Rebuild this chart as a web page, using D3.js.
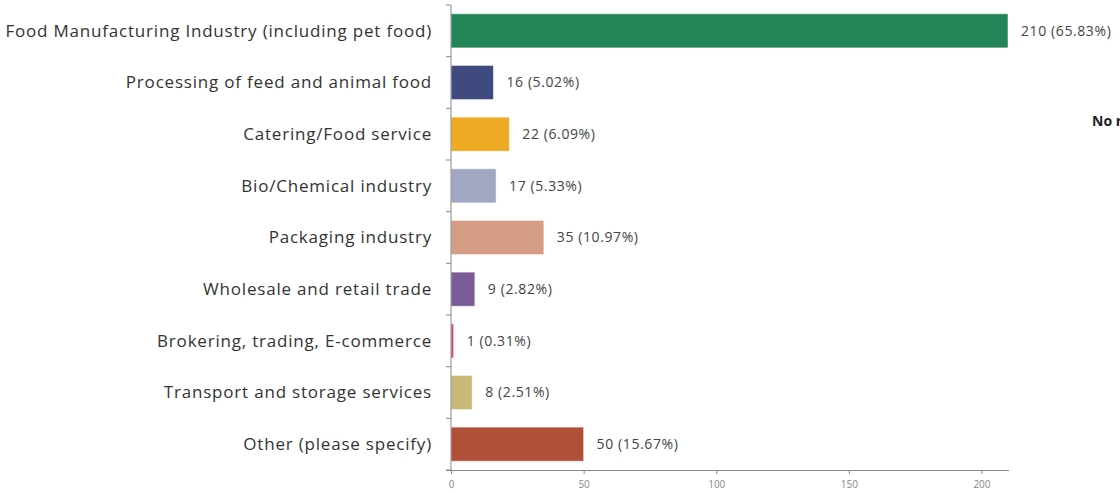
<!DOCTYPE html>
<html>
<head>
<meta charset="utf-8">
<script src="https://cdn.jsdelivr.net/npm/d3@7"></script>
<style>
  body { margin: 0; background: #fff; font-family: "Open Sans", sans-serif; }
  .axis path, .axis line { stroke: #888; }
  .axis text { fill: #888; font-size: 10px; font-family: "Open Sans", sans-serif; }
</style>
</head>
<body>
<script>
const w = 1120;
const h = 493;

// data
const categories = [
    "Food Manufacturing Industry (including pet food)",
    "Processing of feed and animal food",
    "Catering/Food service",
    "Bio/Chemical industry",
    "Packaging industry",
    "Wholesale and retail trade",
    "Brokering, trading, E-commerce",
    "Transport and storage services",
    "Other (please specify)"
];
const counts = [210, 16, 22, 17, 35, 9, 1, 8, 50];
const percents = ["65.83%", "5.02%", "6.09%", "5.33%", "10.97%", "2.82%", "0.31%", "2.51%", "15.67%"];
const colors = ["#228457", "#3f4a7f", "#ecab22", "#a1a6c3", "#d49b85", "#7b5b97", "#d7457f", "#c9b878", "#b04f38"];
const xTicks = [0, 50, 100, 150, 200];

const rows = categories.map((c, i) => ({
    category: c,
    count: counts[i],
    pct: percents[i],
    color: colors[i]
}));

let svg = d3.select("body")
            .append("svg")
                .attr("width", w)
                .attr("height", h);

let x = d3.scaleLinear()
    .domain([0, 210])
    .range([451, 1008]);

let y = d3.scaleBand()
    .domain(categories)
    .range([5, 470])
    .paddingInner(0.34)
    .paddingOuter(0.17);

// bars
svg.selectAll("rect.bar")
    .data(rows)
    .enter()
    .append("rect")
    .attr("class", "bar")
    .attr("x", x(0))
    .attr("y", d => y(d.category))
    .attr("width", d => x(d.count) - x(0))
    .attr("height", y.bandwidth())
    .attr("fill", d => d.color)
    .attr("stroke", "rgba(255,255,255,0.5)")
    .attr("stroke-width", 1);

// value labels
svg.selectAll("text.value")
    .data(rows)
    .enter()
    .append("text")
    .attr("class", "value")
    .attr("x", d => x(d.count) + 13)
    .attr("y", d => y(d.category) + y.bandwidth() / 2)
    .attr("dy", "0.35em")
    .attr("font-size", 14)
    .attr("letter-spacing", 0.6)
    .attr("fill", "#444")
    .text(d => d.count + " (" + d.pct + ")");

// category labels
svg.selectAll("text.cat")
    .data(rows)
    .enter()
    .append("text")
    .attr("class", "cat")
    .attr("x", 432)
    .attr("y", d => y(d.category) + y.bandwidth() / 2)
    .attr("dy", "0.35em")
    .attr("text-anchor", "end")
    .attr("font-size", 17)
    .attr("letter-spacing", 0.8)
    .attr("fill", "#333")
    .text(d => d.category);

// y axis: line plus ticks at band boundaries
let bounds = d3.range(categories.length + 1).map(i => 5 + i * (470 - 5) / categories.length);
svg.append("line")
    .attr("x1", x(0)).attr("x2", x(0))
    .attr("y1", bounds[0]).attr("y2", bounds[bounds.length - 1])
    .attr("stroke", "#888");
svg.selectAll("line.ytick")
    .data(bounds)
    .enter()
    .append("line")
    .attr("class", "ytick")
    .attr("x1", x(0) - 5).attr("x2", x(0))
    .attr("y1", d => d).attr("y2", d => d)
    .attr("stroke", "#888");

// x axis
svg.append("g")
    .attr("class", "axis")
    .attr("transform", "translate(0," + 470 + ")")
    .call(d3.axisBottom(x).tickValues(xTicks).tickSizeOuter(0).tickSize(4).tickPadding(7));
svg.select(".axis .domain").attr("d", "M446,0.5H1009");

// legend text, cut off at the right edge as in the reference
svg.append("text")
    .attr("x", 1092)
    .attr("y", 126)
    .attr("font-size", 14)
    .attr("font-weight", "bold")
    .attr("fill", "#222")
    .text("No response");
</script>
</body>
</html>
